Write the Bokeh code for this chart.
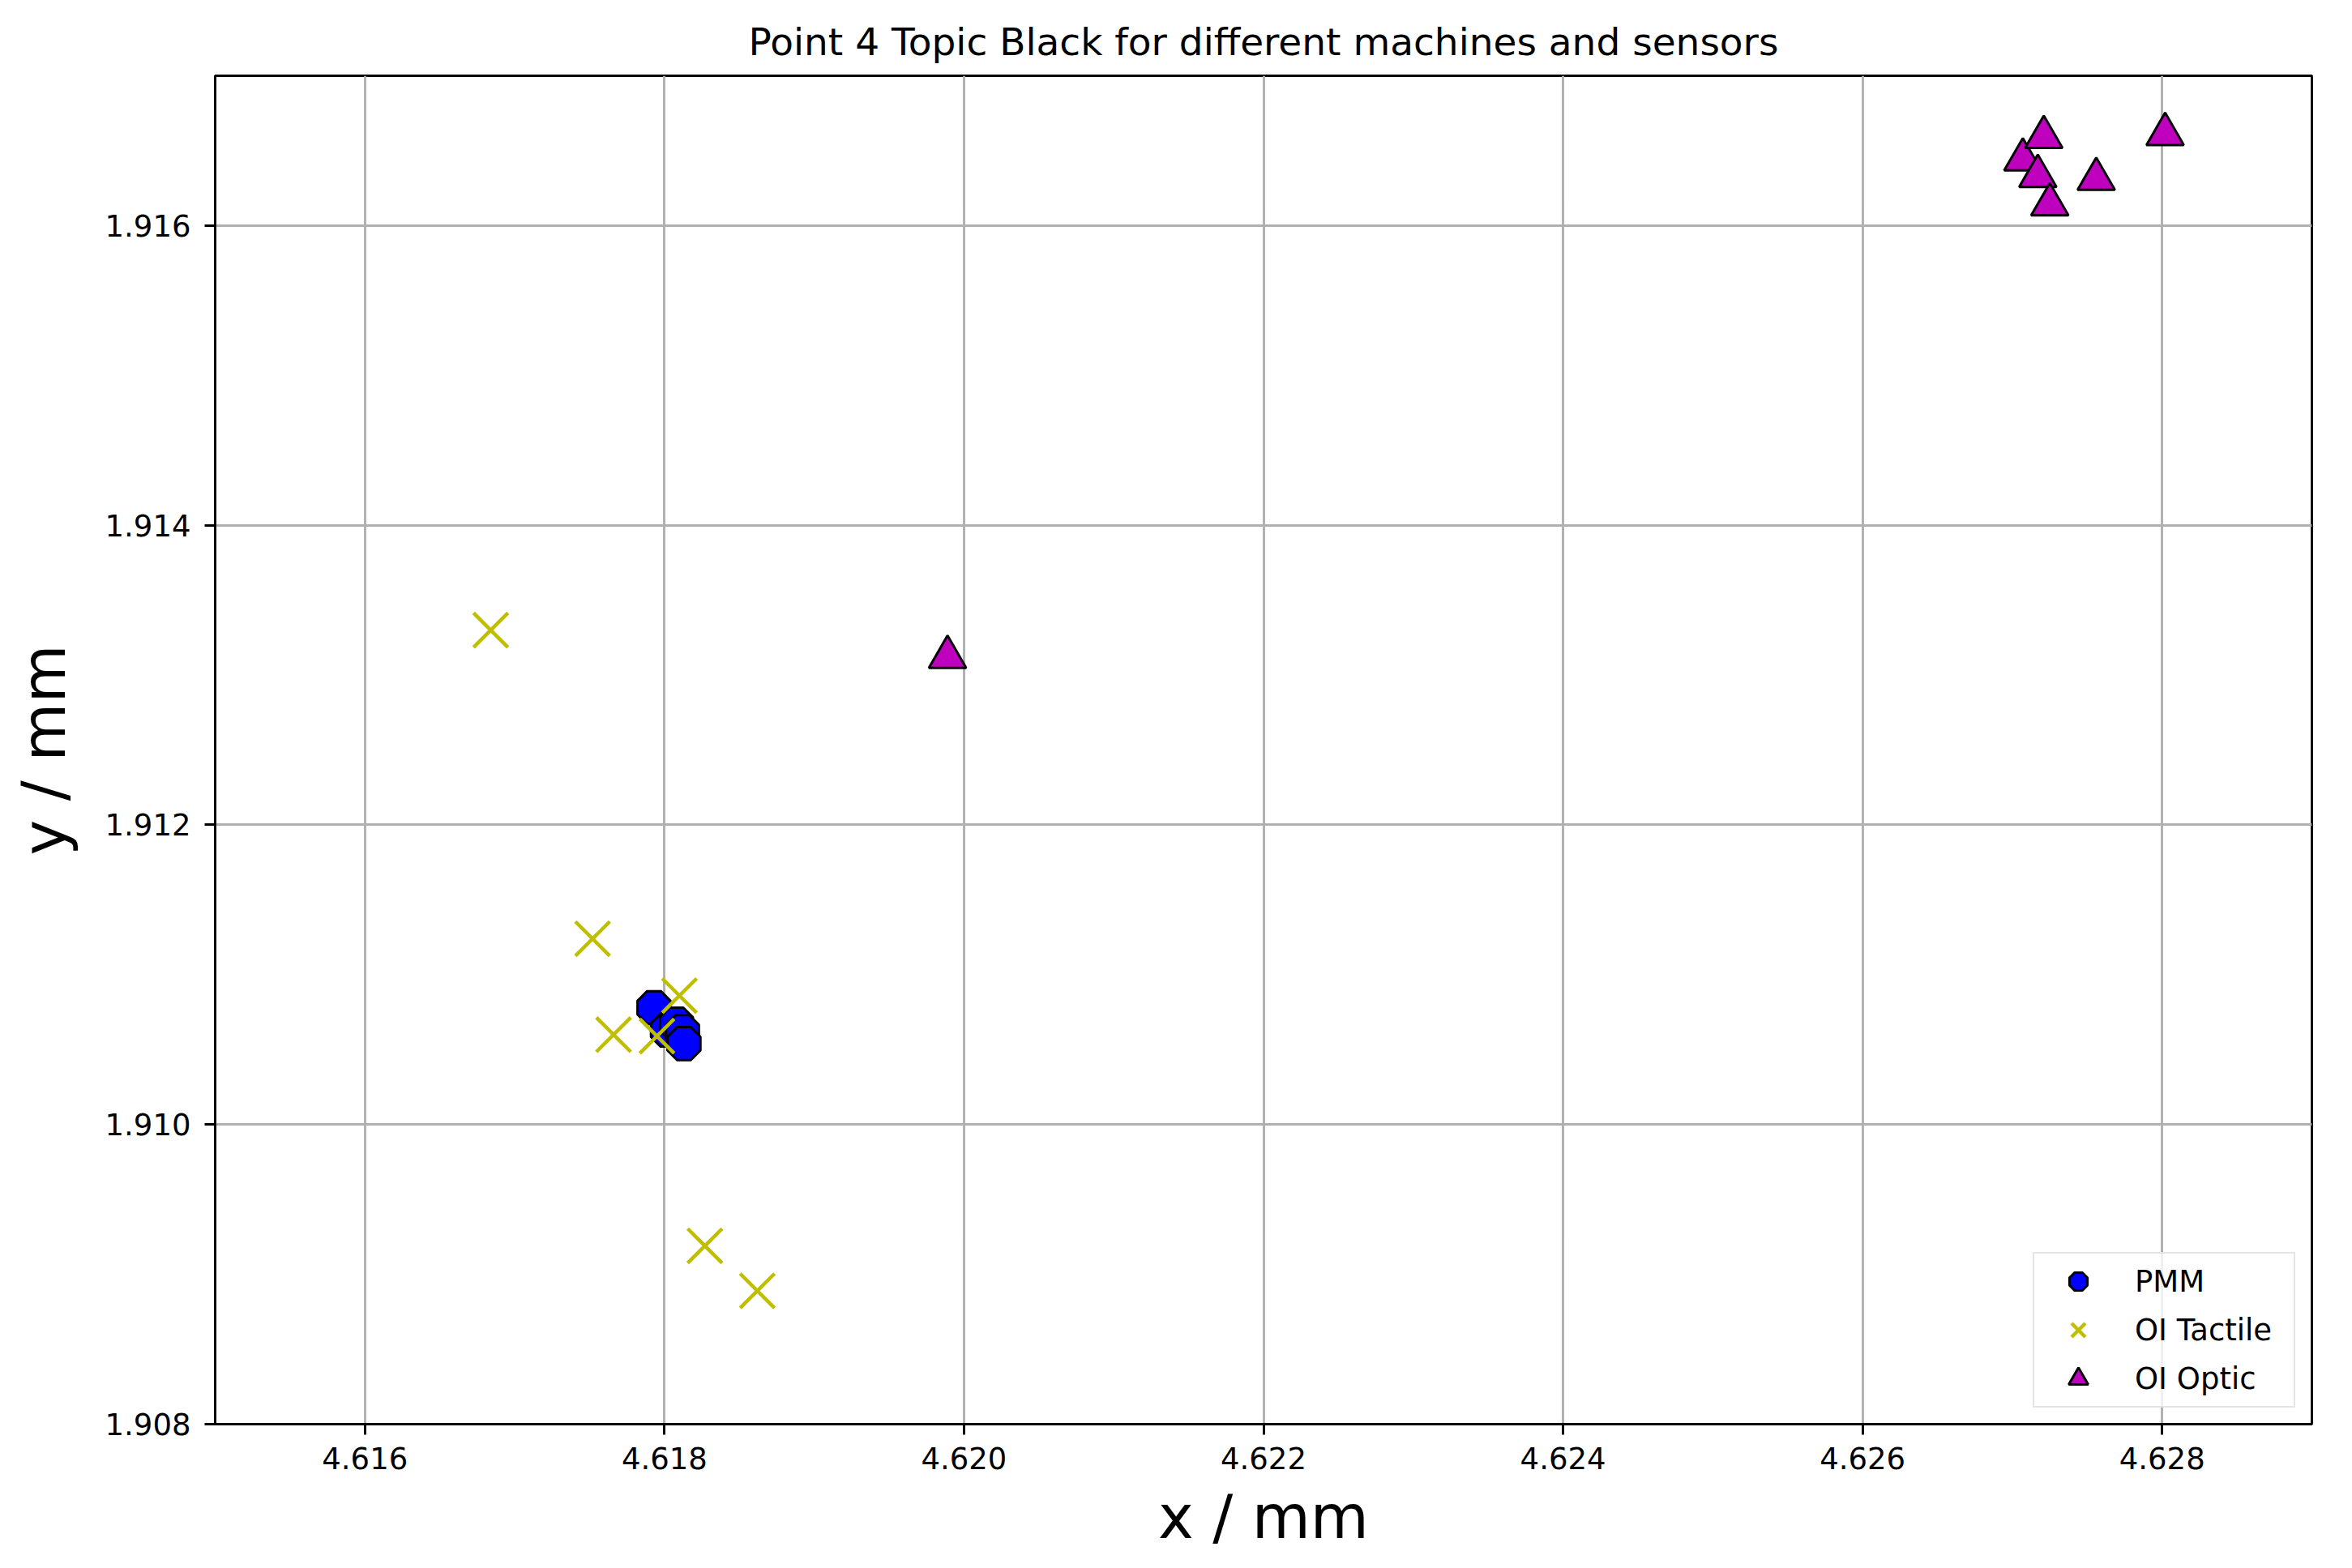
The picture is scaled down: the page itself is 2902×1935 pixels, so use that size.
import math
from bokeh.plotting import figure
from bokeh.models import FixedTicker, PrintfTickFormatter, Range1d
from bokeh.embed import file_html
from bokeh.resources import INLINE

title_text = "Point 4 Topic Black for different machines and sensors"
x_label = "x / mm"
y_label = "y / mm"
x_ticks = [4.616, 4.618, 4.620, 4.622, 4.624, 4.626, 4.628]
y_ticks = [1.908, 1.910, 1.912, 1.914, 1.916]

pmm_x = [4.61793, 4.61802, 4.61808, 4.61812, 4.61813]
pmm_y = [1.91078, 1.91063, 1.91067, 1.91062, 1.91054]

tactile_x = [4.61684, 4.61752, 4.61766, 4.61795, 4.61810, 4.61827, 4.61862]
tactile_y = [1.91330, 1.91124, 1.91060, 1.91059, 1.91086, 1.90919, 1.90889]

optic_x = [4.61989, 4.62707, 4.62717, 4.62721, 4.62725, 4.62756, 4.62802]
optic_y = [1.91312, 1.91644, 1.91633, 1.91659, 1.91614, 1.91631, 1.91661]

FONT = "DejaVu Sans"

p = figure(width=2886, height=1930, output_backend="svg", toolbar_location=None,
           x_range=Range1d(4.615, 4.629), y_range=Range1d(1.908, 1.917),
           min_border_left=265, min_border_right=34, min_border_top=93,
           min_border_bottom=173, title=title_text)

p.title.text_font = FONT
p.title.text_font_size = "47px"
p.title.text_font_style = "normal"
p.title.align = "center"
p.title.standoff = 29
p.title.text_color = "black"

p.xaxis.ticker = FixedTicker(ticks=x_ticks)
p.yaxis.ticker = FixedTicker(ticks=y_ticks)
p.xaxis.formatter = PrintfTickFormatter(format="%.3f")
p.yaxis.formatter = PrintfTickFormatter(format="%.3f")
p.xaxis.axis_label = x_label
p.yaxis.axis_label = y_label

for ax in (p.xaxis, p.yaxis):
    ax.axis_label_text_font = FONT
    ax.axis_label_text_font_size = "74px"
    ax.axis_label_text_font_style = "normal"
    ax.axis_label_text_color = "black"
    ax.major_label_text_font = FONT
    ax.major_label_text_font_size = "37px"
    ax.major_label_text_color = "black"
    ax.axis_line_width = 2.9
    ax.axis_line_color = "black"
    ax.major_tick_line_width = 2.9
    ax.major_tick_line_color = "black"
    ax.major_tick_out = 13
    ax.major_tick_in = 0
    ax.minor_tick_line_color = None

p.xaxis.major_label_standoff = 15
p.yaxis.major_label_standoff = 17
p.xaxis.axis_label_standoff = 13
p.yaxis.axis_label_standoff = 30

p.grid.grid_line_color = "#b0b0b0"
p.grid.grid_line_width = 2.9
p.outline_line_color = "black"
p.outline_line_width = 2.9

p.ngon(x=pmm_x, y=pmm_y, radius=22, radius_units="screen", n=8,
       angle=math.pi / 8, fill_color="#0000ff", line_color="black",
       line_width=3, legend_label="PMM")
p.scatter(x=tactile_x, y=tactile_y, marker="x", size=60,
          line_color="#bfbf00", line_width=4.5, legend_label="OI Tactile")
p.scatter(x=optic_x, y=optic_y, marker="triangle", size=46,
          fill_color="#bf00bf", line_color="black", line_width=3,
          legend_label="OI Optic")

lg = p.legend[0]
lg.location = "bottom_right"
lg.margin = 20
lg.padding = 4
lg.glyph_width = 100
lg.glyph_height = 60
lg.spacing = 0
lg.label_standoff = 20
lg.label_width = 192
lg.label_height = 40
lg.label_text_font = FONT
lg.label_text_font_size = "37px"
lg.label_text_color = "black"
lg.border_line_color = "#cccccc"
lg.border_line_width = 2.5
lg.background_fill_alpha = 0.8

open("out.html", "w").write(file_html(p, INLINE))
